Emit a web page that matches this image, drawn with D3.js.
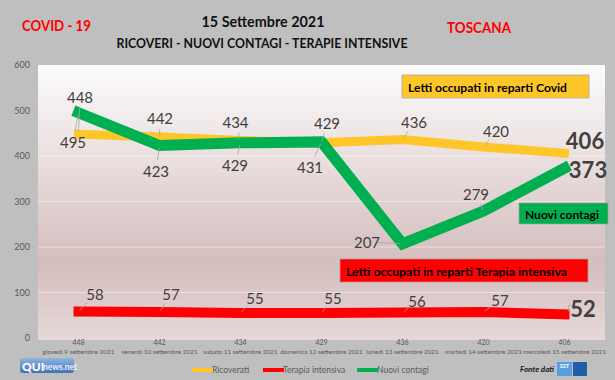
<!DOCTYPE html>
<html>
<head>
<meta charset="utf-8">
<script src="https://cdn.jsdelivr.net/npm/d3@7"></script>
<style>
  html, body { margin: 0; padding: 0; background: #bfbfbf; }
  svg { display: block; }
</style>
</head>
<body>
<svg id="chart" width="615" height="380"></svg>
<script>
// ---- data ----
const dates = ["giovedì 9 settembre 2021", "venerdì 10 settembre 2021", "sabato 11 settembre 2021",
  "domenica 12 settembre 2021", "lunedì 13 settembre 2021", "martedì 14 settembre 2021", "mercoledì 15 settembre 2021"];
const ricoverati = [448, 442, 434, 429, 436, 420, 406];
const terapia = [58, 57, 55, 55, 56, 57, 52];
const contagi = [495, 423, 429, 431, 207, 279, 373];
const yTicks = [0, 100, 200, 300, 400, 500, 600];
// label texts shown on the picture (as in the original)
const ricoveratiLabels = ["448", "442", "434", "429", "436", "420", "406"];
const contagiLabels = ["495", "423", "429", "431", "207", "279", "373"];
const terapiaLabels = ["58", "57", "55", "55", "56", "57", "52"];

// ---- layout ----
const W = 615, H = 380;
const plot = { left: 38, right: 605, top: 65, bottom: 340 };
const svg = d3.select("#chart");
const font = "Lato, 'Open Sans', sans-serif";

const x = d3.scaleBand().domain(d3.range(dates.length)).range([plot.left, plot.right]);
const cx = i => x(i) + x.bandwidth() / 2;
const y = d3.scaleLinear().domain([0, 600]).range([338, 65]);

// background
svg.append("rect").attr("width", W).attr("height", H).attr("fill", "#bfbfbf");

const defs = svg.append("defs");
const grad = defs.append("linearGradient").attr("id", "pg").attr("x1", 0).attr("y1", 0).attr("x2", 0).attr("y2", 1);
grad.append("stop").attr("offset", "0%").attr("stop-color", "#fbfbfb");
grad.append("stop").attr("offset", "35%").attr("stop-color", "#eadede");
grad.append("stop").attr("offset", "72%").attr("stop-color", "#d4bdbd");
grad.append("stop").attr("offset", "100%").attr("stop-color", "#e7d9d9");

svg.append("rect")
  .attr("x", plot.left).attr("y", plot.top)
  .attr("width", plot.right - plot.left).attr("height", plot.bottom - plot.top)
  .attr("fill", "url(#pg)");

// gridlines
svg.append("g").selectAll("line").data(yTicks.filter(d => d > 0 && d < 600)).join("line")
  .attr("x1", plot.left).attr("x2", plot.right)
  .attr("y1", d => y(d)).attr("y2", d => y(d))
  .attr("stroke", "#ffffff").attr("stroke-opacity", 0.45).attr("stroke-width", 1);

// y axis
const yAxis = d3.axisLeft(y).tickValues(yTicks).tickSize(0).tickPadding(0);
const gy = svg.append("g").attr("transform", "translate(30,0)").call(yAxis);
gy.select(".domain").remove();
gy.selectAll("text").attr("fill", "#595959").attr("font-size", 9).attr("font-family", font);

// x axis labels (two lines)
const gx = svg.append("g");
gx.selectAll("text.v").data(ricoverati).join("text").attr("class", "v")
  .attr("x", (d, i) => cx(i)).attr("y", 345)
  .attr("text-anchor", "middle").attr("font-size", 7).attr("fill", "#595959").attr("font-family", font)
  .text(d => d);
gx.selectAll("text.d").data(dates).join("text").attr("class", "d")
  .attr("x", (d, i) => cx(i)).attr("y", 354)
  .attr("text-anchor", "middle").attr("font-size", 6.4).attr("fill", "#595959").attr("font-family", font)
  .text(d => d);

// lines
const line = d3.line().x((d, i) => cx(i)).y(d => y(d));
svg.append("path").datum(ricoverati).attr("d", line)
  .attr("fill", "none").attr("stroke", "#ffc629").attr("stroke-width", 9)
  .attr("stroke-linecap", "square").attr("stroke-linejoin", "miter");
svg.append("path").datum(terapia).attr("d", line)
  .attr("fill", "none").attr("stroke", "#ff0000").attr("stroke-width", 10)
  .attr("stroke-linecap", "square").attr("stroke-linejoin", "miter");
svg.append("path").datum(contagi).attr("d", line)
  .attr("fill", "none").attr("stroke", "#00b050").attr("stroke-width", 11)
  .attr("stroke-linecap", "square").attr("stroke-linejoin", "miter");

// data labels: offsets relative to point
const labelSpecs = [
  { vals: ricoverati, labs: ricoveratiLabels,
    off: [[1.5, -37], [0.5, -19], [-5, -18.5], [5.5, -20], [11.5, -17.6], [12.5, -16], [20.5, -13]] },
  { vals: contagi, labs: contagiLabels,
    off: [[-5.5, 29], [-3.5, 25.5], [-5.5, 22], [-11.5, 25], [-35.5, -2], [-7.5, -17], [23.5, 1]] },
  { vals: terapia, labs: terapiaLabels,
    off: [[16.5, -17.6], [11.5, -18], [14.5, -15], [11.5, -15], [14.5, -11.5], [16.5, -12], [18.5, -6]] }
];

const gl = svg.append("g");
labelSpecs.forEach(spec => {
  spec.vals.forEach((v, i) => {
    const px = cx(i), py = y(v);
    const lx = px + spec.off[i][0], ly = py + spec.off[i][1];
    const last = i === spec.vals.length - 1;
    if (!last) {
      const dx = lx - px, dy = ly - py;
      const len = Math.hypot(dx, dy);
      const cut = Math.min(len - 2, 11);
      if (len > 14) {
        gl.append("line")
          .attr("x1", px + dx * 0.08).attr("y1", py + dy * 0.08)
          .attr("x2", lx - dx / len * cut).attr("y2", ly - dy / len * cut)
          .attr("stroke", "#a6a6a6").attr("stroke-width", 0.8);
      }
    } else if (spec.vals === terapia) {
      gl.append("path")
        .attr("d", `M${px + 4},${py - 3} L${px + 4},${py - 9} L${px + 9},${py - 9}`)
        .attr("fill", "none").attr("stroke", "#a6a6a6").attr("stroke-width", 0.8);
    }
    gl.append("text")
      .attr("x", lx).attr("y", ly)
      .attr("text-anchor", "middle").attr("dominant-baseline", "central")
      .attr("font-family", font)
      .attr("font-size", last ? 22 : 15)
      .attr("font-weight", last ? "bold" : "normal")
      .attr("fill", "#404040")
      .text(spec.labs[i]);
  });
});

// annotation boxes
function box(x0, y0, w, h, fill, txt, tl) {
  svg.append("rect").attr("x", x0).attr("y", y0).attr("width", w).attr("height", h)
    .attr("fill", fill).attr("stroke", "#a0a0a0").attr("stroke-width", 0.7);
  svg.append("text").attr("x", x0 + 6).attr("y", y0 + h / 2 + 0.5)
    .attr("dominant-baseline", "central").attr("font-family", font)
    .attr("font-weight", "bold").attr("font-size", 12).attr("fill", "#000")
    .attr("textLength", tl).attr("lengthAdjust", "spacingAndGlyphs")
    .text(txt);
}
box(402, 75, 187, 23, "#ffc629", "Letti occupati in reparti Covid", 159);
box(519, 203, 89, 21, "#00b050", "Nuovi contagi", 74);
box(340, 259, 248, 23, "#ff0000", "Letti occupati in reparti Terapia intensiva", 221);

// titles
svg.append("text").attr("x", 263).attr("y", 20).attr("text-anchor", "middle")
  .attr("dominant-baseline", "central").attr("font-family", font).attr("font-weight", "bold")
  .attr("font-size", 16).attr("fill", "#111").attr("textLength", 123).attr("lengthAdjust", "spacingAndGlyphs")
  .text("15 Settembre 2021");
svg.append("text").attr("x", 262).attr("y", 43).attr("text-anchor", "middle")
  .attr("dominant-baseline", "central").attr("font-family", font).attr("font-weight", "bold")
  .attr("font-size", 13).attr("fill", "#111").attr("textLength", 291).attr("lengthAdjust", "spacingAndGlyphs")
  .text("RICOVERI - NUOVI CONTAGI - TERAPIE INTENSIVE");
svg.append("text").attr("x", 22).attr("y", 25)
  .attr("dominant-baseline", "central").attr("font-family", font).attr("font-weight", "bold")
  .attr("font-size", 15).attr("fill", "#ff0000").attr("textLength", 69).attr("lengthAdjust", "spacingAndGlyphs")
  .text("COVID - 19");
svg.append("text").attr("x", 447).attr("y", 27)
  .attr("dominant-baseline", "central").attr("font-family", font).attr("font-weight", "bold")
  .attr("font-size", 15).attr("fill", "#ff0000").attr("textLength", 64).attr("lengthAdjust", "spacingAndGlyphs")
  .text("TOSCANA");

// legend
const legendItems = [
  { name: "Ricoverati", color: "#ffc629", x: 192 },
  { name: "Terapia intensiva", color: "#ff0000", x: 263 },
  { name: "Nuovi contagi", color: "#00b050", x: 357 }
];
const lg = svg.append("g");
legendItems.forEach(it => {
  lg.append("text").attr("x", it.x + 20).attr("y", 370)
    .attr("dominant-baseline", "central").attr("font-family", font)
    .attr("font-size", 8.5).attr("fill", "#595959").text(it.name);
  lg.append("line").attr("x1", it.x).attr("x2", it.x + 21).attr("y1", 370).attr("y2", 370)
    .attr("stroke", it.color).attr("stroke-width", 4);
});

// QUInews logo
const logo = svg.append("g");
const lgGrad = defs.append("linearGradient").attr("id", "lgq").attr("x1", 0).attr("y1", 0).attr("x2", 0).attr("y2", 1);
lgGrad.append("stop").attr("offset", "0%").attr("stop-color", "#8fb4e0");
lgGrad.append("stop").attr("offset", "100%").attr("stop-color", "#3f74b8");
logo.append("rect").attr("x", 20).attr("y", 358).attr("width", 54).attr("height", 15).attr("rx", 3)
  .attr("fill", "url(#lgq)");
logo.append("text").attr("x", 22).attr("y", 366).attr("dominant-baseline", "central")
  .attr("font-family", font).attr("font-weight", "900").attr("font-size", 12).attr("fill", "#ffffff")
  .text("QUI");
logo.append("text").attr("x", 43).attr("y", 367).attr("dominant-baseline", "central")
  .attr("font-family", font).attr("font-weight", "bold").attr("font-size", 8.5).attr("fill", "#e8f0fa")
  .text("news.net");

// Fonte dati
svg.append("text").attr("x", 520).attr("y", 369).attr("dominant-baseline", "central")
  .attr("font-family", font).attr("font-style", "italic").attr("font-weight", "bold")
  .attr("font-size", 8).attr("fill", "#1a1a1a").text("Fonte dati");
svg.append("rect").attr("x", 557).attr("y", 362).attr("width", 15).attr("height", 14).attr("fill", "#5aa0e0");
svg.append("text").attr("x", 564.5).attr("y", 366).attr("text-anchor", "middle").attr("dominant-baseline", "central")
  .attr("font-family", font).attr("font-weight", "bold").attr("font-size", 5.5).attr("fill", "#fff").text("SST");
svg.append("rect").attr("x", 573).attr("y", 362).attr("width", 14).attr("height", 14).attr("fill", "#1f5fa8");
</script>
</body>
</html>
